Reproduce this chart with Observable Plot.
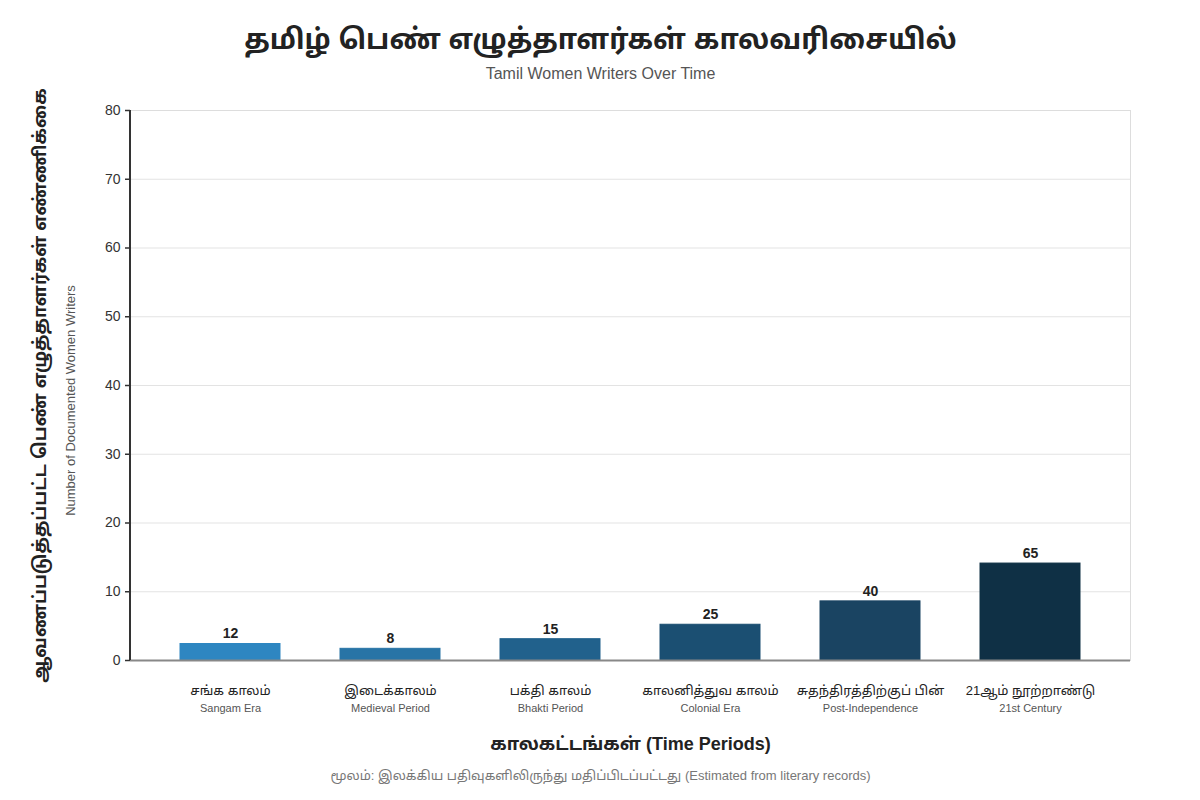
<!DOCTYPE html>
<html>
<head>
<meta charset="utf-8">
<script src="https://cdn.jsdelivr.net/npm/d3@7"></script>
<script src="https://cdn.jsdelivr.net/npm/@observablehq/plot@0.6"></script>
<style>
  html, body { margin: 0; padding: 0; background: #fff; }
  #chart svg { display: block; }
</style>
</head>
<body>
<div id="chart"></div>
<script>
// ---- data ----
const periodsTamil = ["சங்க காலம்", "இடைக்காலம்", "பக்தி காலம்", "காலனித்துவ காலம்", "சுதந்திரத்திற்குப் பின்", "21ஆம் நூற்றாண்டு"];
const periodsEnglish = ["Sangam Era", "Medieval Period", "Bhakti Period", "Colonial Era", "Post-Independence", "21st Century"];
const barHeights = [2.4, 1.7, 3.1, 5.2, 8.6, 14.1];
const valueLabels = [12, 8, 15, 25, 40, 65];
const barColors = ["#2e86c1", "#2874a6", "#21618c", "#1b4f72", "#1a4462", "#0f3045"];
const yTicks = [0, 10, 20, 30, 40, 50, 60, 70, 80];

const titleTamil = "தமிழ் பெண் எழுத்தாளர்கள் காலவரிசையில்";
const titleEnglish = "Tamil Women Writers Over Time";
const yTitleTamil = "ஆவணப்படுத்தப்பட்ட பெண் எழுத்தாளர்கள் எண்ணிக்கை";
const yTitleEnglish = "Number of Documented Women Writers";
const xTitle = "காலகட்டங்கள் (Time Periods)";
const caption = "மூலம்: இலக்கிய பதிவுகளிலிருந்து மதிப்பிடப்பட்டது (Estimated from literary records)";

const data = periodsTamil.map((p, i) => ({
  period: p, english: periodsEnglish[i], h: barHeights[i], label: valueLabels[i], color: barColors[i]
}));

const font = "'Liberation Sans', 'Noto Sans Tamil', 'Lohit Tamil', 'Noto Sans', Arial, sans-serif";

const plot = Plot.plot({
  width: 1200,
  height: 800,
  marginTop: 110,
  marginBottom: 140,
  marginLeft: 130,
  marginRight: 70,
  style: { fontFamily: font, background: "#fff", overflow: "visible" },
  x: { domain: periodsTamil, paddingInner: 0.375, paddingOuter: 0.3125, axis: null },
  y: { domain: [0, 80], axis: null },
  marks: [
    Plot.gridY(yTicks, { stroke: "#e3e3e3", strokeOpacity: 1, strokeWidth: 1 }),
    Plot.frame({ stroke: "#dddddd", strokeWidth: 1 }),
    Plot.barY(data, { x: "period", y: "h", fill: "color", stroke: "color", strokeWidth: 1 }),
    Plot.ruleY([0], { stroke: "#888", strokeWidth: 2 }),
    Plot.axisY({ ticks: yTicks, tickSize: 5, tickPadding: 5, stroke: "#333", strokeWidth: 1.5, fontSize: 14, fill: "#333", label: null, tickFormat: d => d }),
    Plot.text(data, { x: "period", y: "h", text: "label", dy: -10, fontSize: 14, fontWeight: "bold", fill: "#222" }),
    Plot.text(data, { x: "period", text: "period", frameAnchor: "bottom", lineAnchor: "middle", dy: 30, fontSize: 13, fill: "#222" }),
    Plot.text(data, { x: "period", text: "english", frameAnchor: "bottom", lineAnchor: "middle", dy: 48, fontSize: 11, fill: "#555" }),
    // titles and annotations
    Plot.text([titleTamil], { text: d => d, frameAnchor: "top", lineAnchor: "middle", dx: -30, dy: -70, fontSize: 28, fontWeight: "bold", fill: "#222" }),
    Plot.text([titleEnglish], { text: d => d, frameAnchor: "top", lineAnchor: "middle", dx: -30, dy: -37, fontSize: 16, fill: "#555" }),
    Plot.text([xTitle], { text: d => d, frameAnchor: "bottom", lineAnchor: "middle", dy: 84, fontSize: 18, fontWeight: "bold", fill: "#222" }),
    Plot.text([caption], { text: d => d, frameAnchor: "bottom", lineAnchor: "middle", dx: -30, dy: 115, fontSize: 13, fill: "#777" }),
    Plot.text([yTitleTamil], { text: d => d, frameAnchor: "left", textAnchor: "middle", lineAnchor: "middle", dx: -90, rotate: -90, fontSize: 18, fontWeight: "bold", fill: "#222" }),
    Plot.text([yTitleEnglish], { text: d => d, frameAnchor: "left", textAnchor: "middle", lineAnchor: "middle", dx: -60, dy: 15, rotate: -90, fontSize: 13, fill: "#555" })
  ]
});

// left axis line drawn from the library's y scale
const sy = plot.scale("y");
d3.select(plot).append("line")
  .attr("x1", 130).attr("x2", 130)
  .attr("y1", sy.apply(0)).attr("y2", sy.apply(80))
  .attr("stroke", "#333").attr("stroke-width", 2);

document.getElementById("chart").append(plot);
</script>
</body>
</html>
